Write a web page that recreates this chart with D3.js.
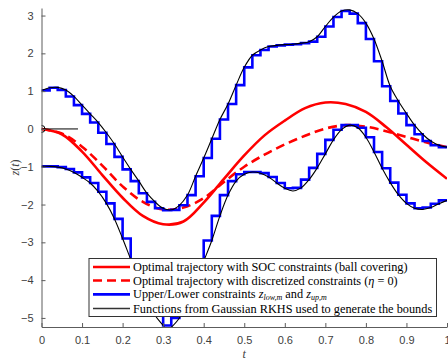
<!DOCTYPE html>
<html>
<head>
<meta charset="utf-8">
<script src="https://cdn.jsdelivr.net/npm/d3@7"></script>
<style>
  body { margin: 0; background: #fff; }
  svg { display: block; }
</style>
</head>
<body>
<div id="graphContainer"></div>
<script>
// grid of the Gaussian RKHS functions
var tGrid = [0, 0.02, 0.04, 0.06, 0.08, 0.10, 0.12, 0.14, 0.16, 0.18, 0.20, 0.22, 0.24, 0.26, 0.28, 0.30, 0.32, 0.34, 0.36, 0.38, 0.40,
  0.42, 0.44, 0.46, 0.48, 0.50, 0.52, 0.54, 0.56, 0.58, 0.60, 0.62, 0.64, 0.66, 0.68, 0.70, 0.72, 0.74, 0.76, 0.78, 0.80,
  0.82, 0.84, 0.86, 0.88, 0.90, 0.92, 0.94, 0.96, 0.98, 1.00];
var upperFun = [1.02, 1.09, 1.10, 1.03, 0.86, 0.63, 0.40, 0.17, -0.10, -0.40, -0.74, -1.07, -1.38, -1.70, -1.93, -2.10, -2.14, -2.02, -1.75, -1.25, -0.77,
  -0.26, 0.25, 0.66, 1.16, 1.63, 1.95, 2.09, 2.18, 2.21, 2.23, 2.24, 2.27, 2.31, 2.44, 2.71, 2.96, 3.12, 3.15, 3.05, 2.80,
  2.38, 1.79, 1.13, 0.74, 0.41, 0.10, -0.14, -0.32, -0.43, -0.48];

var tLow = [0, 0.02, 0.04, 0.06, 0.08, 0.10, 0.12, 0.14, 0.16, 0.18, 0.20, 0.22, 0.24, 0.26, 0.28, 0.30, 0.31, 0.32, 0.34, 0.36, 0.38, 0.40,
  0.42, 0.44, 0.46, 0.48, 0.50, 0.52, 0.54, 0.56, 0.58, 0.60, 0.62, 0.64, 0.66, 0.68, 0.70, 0.72, 0.74, 0.76, 0.78, 0.80,
  0.82, 0.84, 0.86, 0.88, 0.90, 0.92, 0.94, 0.96, 0.98, 1.00];
var lowerFun = [-0.99, -0.99, -1.01, -1.06, -1.15, -1.28, -1.43, -1.66, -1.97, -2.38, -2.90, -3.45, -3.98, -4.48, -4.93, -5.20, -5.35, -5.25, -5.00, -4.55, -4.05, -3.50,
  -2.95, -2.30, -1.75, -1.38, -1.20, -1.14, -1.17, -1.27, -1.43, -1.57, -1.64, -1.56, -1.34, -1.03, -0.66, -0.29, -0.02, 0.10, 0.03, -0.22,
  -0.61, -1.04, -1.42, -1.74, -1.97, -2.10, -2.13, -2.08, -1.98, -1.89];

// piecewise constant constraints, one value per interval of width 0.02
var upperStep = [1.02, 1.09, 1.03, 0.86, 0.63, 0.40, 0.17, -0.10, -0.40, -0.74, -1.07, -1.38, -1.70, -1.93, -2.10, -2.15, -2.14, -2.02, -1.75, -1.25,
  -0.77, -0.26, 0.25, 0.66, 1.16, 1.63, 1.95, 2.09, 2.18, 2.21, 2.23, 2.24, 2.27, 2.31, 2.44, 2.71, 2.96, 3.12, 3.05, 2.80,
  2.38, 1.79, 1.13, 0.74, 0.41, 0.10, -0.14, -0.32, -0.43, -0.48];
var lowerStep = [-0.99, -0.99, -1.01, -1.06, -1.15, -1.28, -1.43, -1.66, -1.97, -2.38, -2.90, -3.45, -3.98, -4.48, -4.93, -5.20, -5.00, -4.55, -4.05, -3.50,
  -2.95, -2.30, -1.75, -1.38, -1.20, -1.14, -1.14, -1.17, -1.27, -1.43, -1.57, -1.56, -1.34, -1.03, -0.66, -0.29, -0.02, 0.10, 0.10, 0.03,
  -0.22, -0.61, -1.04, -1.42, -1.74, -1.97, -2.10, -2.08, -1.98, -1.89];

// optimal trajectories
var tTraj = [0, 0.05, 0.10, 0.15, 0.20, 0.25, 0.30, 0.35, 0.40, 0.45, 0.50, 0.55, 0.60, 0.65, 0.70, 0.75, 0.80, 0.85, 0.90, 0.95, 1.00];
var socTraj = [0, -0.14, -0.60, -1.22, -1.82, -2.30, -2.52, -2.45, -1.95, -1.32, -0.70, -0.17, 0.22, 0.55, 0.70, 0.66, 0.45, 0.05, -0.42, -0.89, -1.32];
var discTraj = [0, -0.12, -0.47, -0.97, -1.52, -1.93, -2.13, -2.08, -1.83, -1.40, -1.00, -0.68, -0.41, -0.18, 0.01, 0.10, 0.06, -0.06, -0.21, -0.36, -0.48];

// initial state marker and velocity arrow
var initT = [0, 0.09];
var initZ = [0, 0];

var xTicks = [0, 0.1, 0.2, 0.3, 0.4, 0.5, 0.6, 0.7, 0.8, 0.9, 1];
var xTickLabels = ["0", "0.1", "0.2", "0.3", "0.4", "0.5", "0.6", "0.7", "0.8", "0.9", "1"];
var yTicks = [-5, -4, -3, -2, -1, 0, 1, 2, 3];

var legendLabels = [
  "Optimal trajectory with SOC constraints (ball covering)",
  "Optimal trajectory with discretized constraints",
  "Upper/Lower constraints",
  "Functions from Gaussian RKHS used to generate the bounds"
];

window.onload = function()
{
  drawChart();
}

function drawChart()
{
  var width = 448, height = 360;
  var left = 41.5, right = 447, top = 8, bottom = 327;
  var axisColor = "#5c5c5c";
  var serif = "'Liberation Serif', 'DejaVu Serif', serif";

  var x = d3.scaleLinear().domain([0, 1]).range([left, right]);
  var y = d3.scaleLinear().domain([-5.24, 3.2]).range([bottom, top]);

  var svg = d3.select("#graphContainer")
    .append("svg")
      .attr("width", width)
      .attr("height", height);

  svg.append("clipPath").attr("id", "plotClip")
    .append("rect")
      .attr("x", left).attr("y", top)
      .attr("width", right - left).attr("height", bottom - top);

  var plot = svg.append("g").attr("clip-path", "url(#plotClip)");

  var smooth = function(ts) {
    return d3.line()
      .x(function(d, i) { return x(ts[i]); })
      .y(function(d) { return y(d); })
      .curve(d3.curveCatmullRom.alpha(0.5));
  };

  var stairs = d3.line()
    .x(function(d) { return x(d[0]); })
    .y(function(d) { return y(d[1]); })
    .curve(d3.curveStepAfter);

  function stepPoints(vals) {
    var pts = vals.map(function(v, i) { return [tGrid[i], v]; });
    pts.push([tGrid[vals.length], vals[vals.length - 1]]);
    return pts;
  }

  // red trajectories
  plot.append("path")
    .attr("d", smooth(tTraj)(socTraj))
    .style("fill", "none").style("stroke", "#ff0000").style("stroke-width", 2.6);

  plot.append("path")
    .attr("d", smooth(tTraj)(discTraj))
    .style("fill", "none").style("stroke", "#ff0000").style("stroke-width", 2.6)
    .style("stroke-dasharray", "9,5");

  // blue stairs
  [upperStep, lowerStep].forEach(function(s) {
    plot.append("path")
      .attr("d", stairs(stepPoints(s)))
      .style("fill", "none").style("stroke", "#0000ff").style("stroke-width", 2.6);
  });

  // black RKHS functions
  plot.append("path")
    .attr("d", smooth(tGrid)(upperFun))
    .style("fill", "none").style("stroke", "#000").style("stroke-width", 1.1);
  plot.append("path")
    .attr("d", smooth(tLow)(lowerFun))
    .style("fill", "none").style("stroke", "#000").style("stroke-width", 1.1);

  // initial point
  plot.append("line")
    .attr("x1", x(initT[0])).attr("y1", y(initZ[0]))
    .attr("x2", x(initT[1])).attr("y2", y(initZ[1]))
    .style("stroke", "#000").style("stroke-width", 1);
  plot.append("circle")
    .attr("cx", x(initT[0])).attr("cy", y(initZ[0])).attr("r", 3.5)
    .style("fill", "none").style("stroke", "#000").style("stroke-width", 1);

  // axes
  var xAxis = svg.append("g")
    .attr("transform", "translate(0," + bottom + ")")
    .call(d3.axisBottom(x).tickValues(xTicks)
      .tickFormat(function(d, i) { return xTickLabels[i]; })
      .tickSizeInner(-4).tickSizeOuter(0).tickPadding(9));

  var yAxis = svg.append("g")
    .attr("transform", "translate(" + left + ",0)")
    .call(d3.axisLeft(y).tickValues(yTicks).tickFormat(d3.format("d"))
      .tickSizeInner(-4).tickSizeOuter(0).tickPadding(8));

  [xAxis, yAxis].forEach(function(a) {
    a.select(".domain").style("stroke", axisColor).style("stroke-width", 1);
    a.selectAll(".tick line").style("stroke", axisColor);
    a.selectAll(".tick text")
      .style("fill", "#404040")
      .style("font-family", "'Liberation Sans', Arial, sans-serif")
      .style("font-size", "11px");
  });

  svg.append("text")
    .attr("x", x(0.5)).attr("y", 357.5)
    .attr("text-anchor", "middle")
    .style("font-family", serif).style("font-style", "italic")
    .style("font-size", "12px").style("fill", "#404040")
    .text("t");

  svg.append("text")
    .attr("transform", "translate(19," + ((top + bottom) / 2) + ") rotate(-90)")
    .attr("text-anchor", "middle")
    .style("font-family", serif).style("font-size", "12px").style("fill", "#404040")
    .call(function(t) {
      t.append("tspan").style("font-style", "italic").text("z");
      t.append("tspan").text("(");
      t.append("tspan").style("font-style", "italic").text("t");
      t.append("tspan").text(")");
    });

  // legend
  var lg = svg.append("g");
  lg.append("rect")
    .attr("x", 89).attr("y", 258.5).attr("width", 347.5).attr("height", 58)
    .style("fill", "#fff").style("stroke", "#333").style("stroke-width", 1);

  var rowY = [267, 280.5, 294.3, 308.5];
  var swatch = [
    { color: "#ff0000", width: 2.6, dash: null },
    { color: "#ff0000", width: 2.6, dash: "9,5" },
    { color: "#0000ff", width: 2.8, dash: null },
    { color: "#333", width: 1.3, dash: null }
  ];
  legendLabels.forEach(function(lbl, i) {
    lg.append("line")
      .attr("x1", 93).attr("x2", 130)
      .attr("y1", rowY[i]).attr("y2", rowY[i])
      .style("stroke", swatch[i].color).style("stroke-width", swatch[i].width)
      .style("stroke-dasharray", swatch[i].dash);
    var txt = lg.append("text")
      .attr("x", 133).attr("y", rowY[i] + 4)
      .style("font-family", serif).style("font-size", "12.3px").style("fill", "#000");
    txt.append("tspan").text(lbl);
    if (i === 1) {
      txt.append("tspan").text(" (");
      txt.append("tspan").style("font-style", "italic").text("η");
      txt.append("tspan").text(" = 0)");
    }
    if (i === 2) {
      txt.append("tspan").text(" ");
      txt.append("tspan").style("font-style", "italic").text("z");
      txt.append("tspan").attr("dy", 2).style("font-style", "italic").style("font-size", "8px").text("low,m");
      txt.append("tspan").attr("dy", -2).text(" and ");
      txt.append("tspan").style("font-style", "italic").text("z");
      txt.append("tspan").attr("dy", 2).style("font-style", "italic").style("font-size", "8px").text("up,m");
    }
  });
}
</script>
</body>
</html>
